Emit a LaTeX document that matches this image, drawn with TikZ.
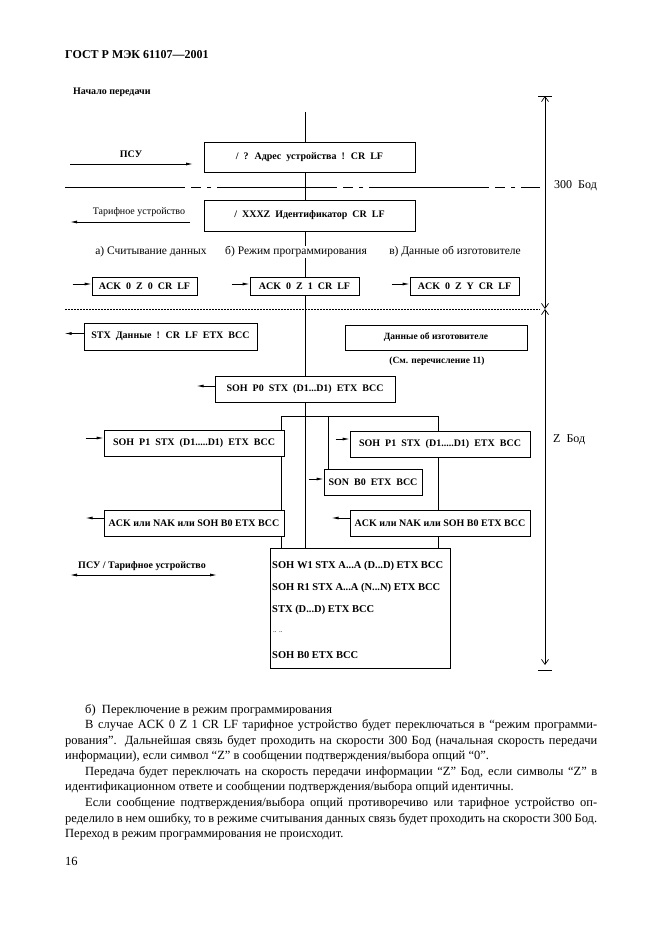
\documentclass[tikz,border=0pt]{standalone}
\usepackage{fontspec}
\setmainfont{Liberation Serif}
\usetikzlibrary{arrows.meta,calc}
\pgfdeclarelayer{bg}
\pgfsetlayers{bg,main}
\newcommand\bxfont{\fontsize{10}{12}\selectfont\bfseries\spaceskip=0.5em plus 0.1em minus 0.1em\relax}
\begin{document}
\begin{tikzpicture}[x=1pt,y=-1pt,
  box/.style={draw,line width=0.8pt,fill=white,inner sep=0pt,font=\bxfont},
  boxn/.style={box,font=\fontsize{10}{12}\selectfont\bfseries},
  flowarrow/.style={line width=0.8pt,-{Latex[length=7pt,width=3pt]}},
  dimline/.style={line width=0.7pt,{Straight Barb[length=5pt,width=7pt]}-{Straight Barb[length=5pt,width=7pt]}},
  sepline/.style={line width=0.5pt,dash pattern=on 120pt off 6pt on 10pt off 6pt on 4pt off 6pt},
  conn/.style={line width=0.8pt},
  lbl/.style={font=\fontsize{11.5}{13}\selectfont,inner sep=1pt},
  sidelbl/.style={font=\fontsize{10}{12}\selectfont\bfseries,inner sep=0pt},
  ptext/.style={font=\fontsize{12.5}{15}\selectfont,anchor=base west,inner sep=0pt},
  biglines/.style={font=\fontsize{10.5}{12}\selectfont\bfseries,anchor=west,inner sep=0pt}
]
\useasboundingbox (0,0) rectangle (661,936);

% header
\node[anchor=base west,font=\fontsize{12}{14}\selectfont\bfseries,inner sep=0pt] (hdr) at (65,59) {ГОСТ Р МЭК 61107—2001};
\node[anchor=base west,font=\fontsize{10}{11}\selectfont\bfseries,inner sep=0pt] (start) at (73,95) {Начало передачи};

% boxes
\node[box,minimum width=211pt,minimum height=30pt] (b1) at (309.5,157) {/ ? Адрес устройства ! CR LF};
\node[box,minimum width=211pt,minimum height=31pt] (b2) at (309.5,215.5) {/ XXXZ Идентификатор CR LF};
\node[box,minimum width=105pt,minimum height=18pt] (acka) at (144.5,286) {ACK 0 Z 0 CR LF};
\node[box,minimum width=109pt,minimum height=18pt] (ackb) at (304.5,286) {ACK 0 Z 1 CR LF};
\node[box,minimum width=109pt,minimum height=18pt] (ackc) at (464.5,286) {ACK 0 Z Y CR LF};
\node[box,minimum width=173pt,minimum height=27pt] (stx) at (170.5,336.5) {STX Данные ! CR LF ETX BCC};
\node[boxn,minimum width=182pt,minimum height=25pt,font=\fontsize{9.5}{11}\selectfont\bfseries] (mfr) at (436,337.5) {Данные об изготовителе};
\node[font=\fontsize{9.5}{11}\selectfont\bfseries,inner sep=0pt] (see) at (437,361) {(См. перечисление 11)};
\node[box,minimum width=180pt,minimum height=26pt] (p0) at (305,389) {SOH P0 STX (D1...D1) ETX BCC};
\node[box,minimum width=180pt,minimum height=26pt] (p1l) at (194,443) {SOH P1 STX (D1.....D1) ETX BCC};
\node[box,minimum width=180pt,minimum height=26pt] (p1r) at (440,444) {SOH P1 STX (D1.....D1) ETX BCC};
\node[box,minimum width=98pt,minimum height=26pt] (son) at (373,482) {SON B0 ETX BCC};
\node[boxn,minimum width=180pt,minimum height=26pt] (ackl) at (194,523) {ACK или NAK или SOH B0 ETX BCC};
\node[boxn,minimum width=180pt,minimum height=26pt] (ackr) at (440,523) {ACK или NAK или SOH B0 ETX BCC};
\node[draw,line width=0.8pt,fill=white,minimum width=180pt,minimum height=120pt,inner sep=0pt] (big) at (360,608) {};
\node[biglines] (w1) at (272,566) {SOH W1 STX A...A (D...D) ETX BCC};
\node[biglines] (r1) at (272,588) {SOH R1 STX A...A (N...N) ETX BCC};
\node[biglines] (sd) at (272,610) {STX (D...D) ETX BCC};
\node[biglines,font=\fontsize{7}{8}\selectfont] (dots) at (273,632) {.. ..};
\node[biglines] (b0) at (272,655) {SOH B0 ETX BCC};

% labels a/b/c
\node[lbl,fill=white] (la) at (151,252) {а) Считывание данных};
\node[lbl,fill=white] (lb) at (296,252) {б) Режим программирования};
\node[lbl,fill=white] (lc) at (455,252) {в) Данные об изготовителе};

% background lines
\begin{pgfonlayer}{bg}
\coordinate (ctop) at (305,112);
\draw[conn] (ctop) -- (ctop |- big.north);
\coordinate (brl) at (281,416);
\coordinate (brr) at (438,416);
\coordinate (brm) at (328,416);
\draw[conn] (brl |- big.north) -- (brl) -- (brr) -- (brr |- big.north);
\draw[conn] (brm) -- (brm |- son.north);
\coordinate (s1l) at (65,187);
\coordinate (s1r) at (540,187);
\draw[sepline] (s1l) -- (s1r);
\coordinate (s2l) at (65,309);
\coordinate (s2r) at (540,309);
\draw[line width=0.5pt,dash pattern=on 1.5pt off 1.5pt] (s2l) -- (s2r);
\end{pgfonlayer}

% side arrows
\node[sidelbl] (psu) at (131,154) {ПСУ};
\coordinate (psuL) at (70,164);
\coordinate (psuR) at (193,164);
\draw[flowarrow] (psuL) -- (psuR);
\node[sidelbl,font=\fontsize{10}{12}\selectfont] (tar) at (139,212) {Тарифное устройство};
\coordinate (tarL) at (70,222);
\coordinate (tarR) at (190,222);
\draw[flowarrow] (tarR) -- (tarL);

\draw[flowarrow] ([xshift=-19pt,yshift=2pt]acka.west) -- ([yshift=2pt]acka.west);
\draw[flowarrow] ([xshift=-18pt,yshift=2pt]ackb.west) -- ([yshift=2pt]ackb.west);
\draw[flowarrow] ([xshift=-18pt,yshift=2pt]ackc.west) -- ([yshift=2pt]ackc.west);
\draw[flowarrow] ([yshift=3pt]stx.west) -- ([xshift=-19pt,yshift=3pt]stx.west);
\draw[flowarrow] ([yshift=3pt]p0.west) -- ([xshift=-18pt,yshift=3pt]p0.west);
\draw[flowarrow] ([xshift=-18pt,yshift=5pt]p1l.west) -- ([yshift=5pt]p1l.west);
\draw[flowarrow] ([xshift=-14pt,yshift=5pt]p1r.west) -- ([yshift=5pt]p1r.west);
\draw[flowarrow] ([xshift=-15pt,yshift=3pt]son.west) -- ([yshift=3pt]son.west);
\draw[flowarrow] ([yshift=5pt]ackl.west) -- ([xshift=-18pt,yshift=5pt]ackl.west);
\draw[flowarrow] ([yshift=5pt]ackr.west) -- ([xshift=-18pt,yshift=5pt]ackr.west);

\node[sidelbl] (both) at (142,566) {ПСУ / Тарифное устройство};
\coordinate (bothL) at (70,575);
\coordinate (bothR) at (217,575);
\draw[line width=0.8pt,{Latex[length=7pt,width=3pt]}-{Latex[length=7pt,width=3pt]}] (bothL) -- (bothR);

% dimension line
\coordinate (dtop) at (545,96);
\coordinate (dmid) at (545,309);
\coordinate (dbot) at (545,665);
\draw[dimline] (dtop) -- (dmid);
\draw[dimline] (dmid) -- (dbot);
\draw[line width=0.8pt] ([xshift=-7pt]dtop) -- ([xshift=7pt]dtop);
\draw[line width=0.8pt] ([xshift=-7pt,yshift=-5pt]dbot) -- ([xshift=7pt,yshift=-5pt]dbot);
\node[anchor=west,font=\fontsize{12}{14}\selectfont,inner sep=0pt] (b300) at (554,186) {300\ \ Бод};
\node[anchor=west,font=\fontsize{12}{14}\selectfont,inner sep=0pt] (bz) at (553,440) {Z\ \ Бод};

% paragraph
\node[ptext] (t1) at (85,713) {б)\ \ Переключение в режим программирования};
\node[ptext] (t2) at (85,728) {\makebox[512pt][s]{В случае ACK 0 Z 1 CR LF тарифное устройство будет переключаться в “режим программи-}};
\node[ptext] (t3) at (65,744) {\makebox[532pt][s]{рования”. Дальнейшая связь будет проходить на скорости 300 Бод (начальная скорость передачи}};
\node[ptext] (t4) at (65,759) {информации), если символ “Z” в сообщении подтверждения/выбора опций “0”.};
\node[ptext] (t5) at (85,775) {\makebox[512pt][s]{Передача будет переключать на скорость передачи информации “Z” Бод, если символы “Z” в}};
\node[ptext] (t6) at (65,790) {идентификационном ответе и сообщении подтверждения/выбора опций идентичны.};
\node[ptext] (t7) at (85,806) {\makebox[512pt][s]{Если сообщение подтверждения/выбора опций противоречиво или тарифное устройство оп-}};
\node[ptext] (t8) at (65,822) {\makebox[532pt][s]{ределило в нем ошибку, то в режиме считывания данных связь будет проходить на скорости 300 Бод.}};
\node[ptext] (t9) at (65,837) {Переход в режим программирования не происходит.};
\node[ptext] (pg) at (65,865) {16};
\end{tikzpicture}
\end{document}
